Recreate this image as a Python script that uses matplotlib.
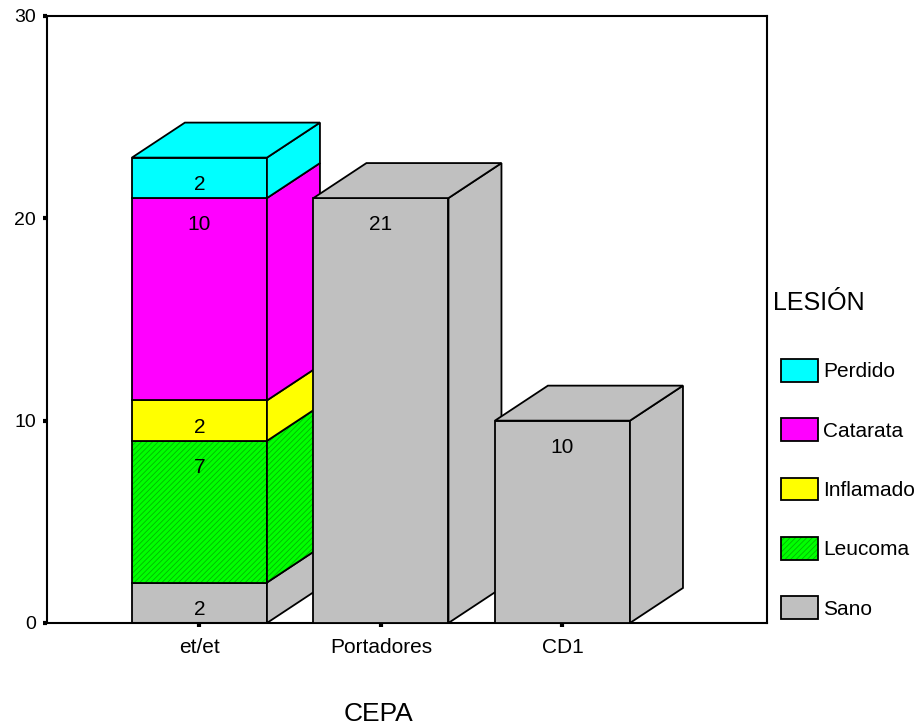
import matplotlib.pyplot as plt
from matplotlib.patches import Polygon, Patch

plt.rcParams['font.family'] = ['Liberation Sans', 'DejaVu Sans']
plt.rcParams['hatch.linewidth'] = 0.6

categories = ['et/et', 'Portadores', 'CD1']
lesions = ['Sano', 'Leucoma', 'Inflamado', 'Catarata', 'Perdido']
sano = [2, 21, 10]
leucoma = [7, 0, 0]
inflamado = [2, 0, 0]
catarata = [10, 0, 0]
perdido = [2, 0, 0]
counts = [sano, leucoma, inflamado, catarata, perdido]

colors = ['#c0c0c0', '#00ff00', '#ffff00', '#ff00ff', '#00ffff']
hatches = [None, '//////', None, None, None]
hatch_color = '#00b800'

width = 0.744       # front face width, in category units
dx, dy = 0.292, 1.73  # 3d depth offset (x units, y units)

fig = plt.figure(figsize=(9.21, 7.26), dpi=100)
ax = fig.add_axes([0.051, 0.1419, 0.7818, 0.8361])


def face(pts, color, hatch, z):
    if hatch:
        ax.add_patch(Polygon(pts, closed=True, facecolor=color, edgecolor=hatch_color,
                             hatch=hatch, lw=0, zorder=z))
        ax.add_patch(Polygon(pts, closed=True, fill=False, edgecolor='black',
                             lw=1.3, zorder=z))
    else:
        ax.add_patch(Polygon(pts, closed=True, facecolor=color, edgecolor='black',
                             lw=1.3, zorder=z))


z = 2
for i, cat in enumerate(categories):
    left, right = i - width / 2, i + width / 2
    bottom = 0
    top_total = sum(c[i] for c in counts)
    for j, vals in enumerate(counts):
        v = vals[i]
        if v == 0:
            continue
        top = bottom + v
        # front
        face([(left, bottom), (right, bottom), (right, top), (left, top)],
             colors[j], hatches[j], z)
        # side
        face([(right, bottom), (right + dx, bottom + dy), (right + dx, top + dy), (right, top)],
             colors[j], hatches[j], z)
        # lid on the topmost segment
        if top == top_total:
            face([(left, top), (left + dx, top + dy), (right + dx, top + dy), (right, top)],
                 colors[j], hatches[j], z)
        ax.text(i, top - 1.33, str(v), ha='center', va='center', fontsize=15, zorder=z + 1)
        bottom = top
        z += 1

ax.set_xlim(-0.840, 3.127)
ax.set_ylim(0, 30)
ax.set_xticks(range(len(categories)))
ax.set_xticklabels(categories)
ax.set_yticks([0, 10, 20, 30])
ax.tick_params(axis='both', direction='out', length=3, width=3, labelsize=14)
ax.tick_params(axis='x', pad=8, labelsize=15)
ax.tick_params(axis='y', pad=5)
for s in ax.spines.values():
    s.set_linewidth(1.5)

ax.set_xlabel('CEPA', fontsize=19)
ax.xaxis.set_label_coords(0.46, -0.15)
ax.xaxis.label.set_va('center')

# legend, top to bottom: Perdido ... Sano
handles = []
for j in reversed(range(len(lesions))):
    if hatches[j]:
        h = (Patch(facecolor=colors[j], edgecolor=hatch_color, hatch=hatches[j], lw=0),
             Patch(fill=False, edgecolor='black', lw=1.3))
    else:
        h = Patch(facecolor=colors[j], edgecolor='black', lw=1.3)
    handles.append(h)
fig.text(773 / 921, 1 - 303 / 726, 'LESIÓN', fontsize=18, va='center', ha='left')
fig.legend(handles, lesions[::-1], loc='upper left',
           bbox_to_anchor=(781 / 921, 1 - 359 / 726), frameon=False,
           fontsize=15, handlelength=1.78, handleheight=1.3, labelspacing=1.76,
           handletextpad=0.25, borderpad=0, borderaxespad=0)

fig.savefig('out.png', dpi=100)
